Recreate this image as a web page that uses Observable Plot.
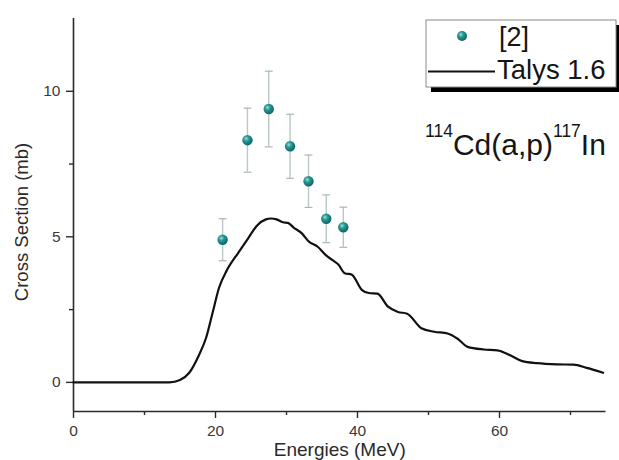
<!DOCTYPE html>
<html>
<head>
<meta charset="utf-8">
<script src="https://cdn.jsdelivr.net/npm/d3@7"></script>
<script src="https://cdn.jsdelivr.net/npm/@observablehq/plot@0.6"></script>
<style>
  html, body { margin: 0; padding: 0; background: #fff; }
  #chart { width: 619px; height: 460px; }
  svg { font-family: "Liberation Sans", Arial, sans-serif; }
</style>
</head>
<body>
<div id="chart"></div>
<script>
// Experimental data [2]
const expEnergy = [21.0, 24.5, 27.5, 30.5, 33.1, 35.6, 38.0];
const expCross  = [4.90, 8.32, 9.39, 8.11, 6.91, 5.62, 5.33];
const expError  = [0.72, 1.10, 1.30, 1.10, 0.90, 0.82, 0.69];

// Talys 1.6 calculation
const talysEnergy = [0, 5, 10, 13.5, 15.0, 16.3, 17.6, 18.7, 19.6, 20.5, 21.6, 23.2, 24.6, 25.9, 27.1, 27.8, 28.6, 29.5, 30.2, 31.0, 32.2, 33.1, 34.4, 35.5, 36.6, 37.3, 38.2, 39.2, 40.6, 41.6, 42.8, 44.3, 45.7, 47.0, 49.0, 50.8, 52.7, 54.1, 55.5, 57.8, 59.7, 61.5, 63.2, 65.3, 68.1, 70.4, 72.3, 74.6];
const talysCross  = [0, 0, 0, 0, 0.08, 0.33, 0.90, 1.55, 2.40, 3.25, 3.85, 4.45, 4.95, 5.40, 5.60, 5.63, 5.60, 5.50, 5.48, 5.32, 5.11, 4.85, 4.66, 4.38, 4.18, 4.05, 3.75, 3.70, 3.18, 3.07, 3.05, 2.60, 2.42, 2.36, 1.86, 1.74, 1.68, 1.50, 1.22, 1.13, 1.10, 0.93, 0.73, 0.66, 0.62, 0.61, 0.50, 0.33];

// Tick values
const xMajorTicks = [0, 20, 40, 60];
const xMinorTicks = [10, 30, 50, 70];
const yMajorTicks = [0, 5, 10];
const yMinorTicks = [2.5, 7.5];

const expData = expEnergy.map((x, i) => ({x, y: expCross[i], e: expError[i]}));
const talysData = talysEnergy.map((x, i) => ({x, y: talysCross[i]}));

const axisColor = "#2a2a2a";
const chart = Plot.plot({
  width: 619,
  height: 460,
  marginLeft: 73,
  marginRight: 13.5,
  marginTop: 18,
  marginBottom: 49,
  style: {fontFamily: "'Liberation Sans', Arial, sans-serif", background: "white"},
  x: {domain: [0, 75]},
  y: {domain: [-1, 12.5]},
  marks: [
    // axes
    Plot.axisX({ticks: xMajorTicks, tickSize: 7, tickPadding: 6, fontSize: 15.5, color: "#3a3a3a", stroke: axisColor, strokeWidth: 1.4, label: null}),
    Plot.axisX({ticks: xMinorTicks, tickSize: 4, tickFormat: () => "", stroke: axisColor, strokeWidth: 1.4, label: null}),
    Plot.axisY({ticks: yMajorTicks, tickSize: 7, tickPadding: 6, fontSize: 15.5, color: "#3a3a3a", stroke: axisColor, strokeWidth: 1.4, label: null}),
    Plot.axisY({ticks: yMinorTicks, tickSize: 4, tickFormat: () => "", stroke: axisColor, strokeWidth: 1.4, label: null}),
    Plot.ruleY([-1], {stroke: axisColor, strokeWidth: 1.6}),
    Plot.ruleX([0], {stroke: axisColor, strokeWidth: 1.6}),
    Plot.text(["Energies (MeV)"], {frameAnchor: "bottom", dy: 38, lineAnchor: "middle", textAnchor: "middle", fontSize: 19, fill: "#2a2a2a"}),
    Plot.text(["Cross Section (mb)"], {frameAnchor: "left", dx: -51, dy: 7, rotate: -90, lineAnchor: "middle", textAnchor: "middle", fontSize: 18.5, fill: "#2a2a2a"}),
    // Talys curve
    Plot.line(talysData, {x: "x", y: "y", stroke: "#111", strokeWidth: 2.2, curve: "monotone-x"}),
    // error bars
    Plot.ruleX(expData, {x: "x", y1: d => d.y - d.e, y2: d => d.y + d.e, stroke: "#b9c7c7", strokeWidth: 1.4}),
    Plot.link(expData, {x1: d => d.x - 0.55, x2: d => d.x + 0.55, y1: d => d.y + d.e, y2: d => d.y + d.e, stroke: "#aab6b6", strokeWidth: 1.2}),
    Plot.link(expData, {x1: d => d.x - 0.55, x2: d => d.x + 0.55, y1: d => d.y - d.e, y2: d => d.y - d.e, stroke: "#aab6b6", strokeWidth: 1.2}),
    // points
    Plot.dot(expData, {x: "x", y: "y", r: 5.2, fill: "url(#ball)", stroke: "none"})
  ]
});

const svg = d3.select(chart);
const defs = svg.insert("defs", ":first-child");
const g = defs.append("radialGradient").attr("id", "ball").attr("cx", "0.38").attr("cy", "0.35").attr("r", "0.7");
g.append("stop").attr("offset", "0").attr("stop-color", "#9fe0dc");
g.append("stop").attr("offset", "0.35").attr("stop-color", "#2a9a96");
g.append("stop").attr("offset", "1").attr("stop-color", "#0b5e5e");

// Legend box with shadow
const leg = svg.append("g").attr("text-anchor", "start");
leg.append("rect").attr("x", 431).attr("y", 25).attr("width", 190).attr("height", 67).attr("fill", "#000");
leg.append("rect").attr("x", 426).attr("y", 20).attr("width", 190).attr("height", 67).attr("fill", "#fff").attr("stroke", "#8a8a8a").attr("stroke-width", 1);
leg.append("circle").attr("cx", 462).attr("cy", 36).attr("r", 5).attr("fill", "url(#ball)");
leg.append("text").attr("x", 499).attr("y", 46).attr("font-size", 27).attr("fill", "#151515").text("[2]");
leg.append("line").attr("x1", 428).attr("x2", 495).attr("y1", 71.5).attr("y2", 71.5).attr("stroke", "#111").attr("stroke-width", 2);
leg.append("text").attr("x", 497).attr("y", 79).attr("font-size", 27.5).attr("fill", "#151515").text("Talys 1.6");

// Reaction annotation
const ann = svg.append("text").attr("text-anchor", "start").attr("x", 425).attr("y", 155).attr("fill", "#151515");
ann.append("tspan").attr("font-size", 17.5).attr("dy", -18).text("114");
ann.append("tspan").attr("font-size", 30).attr("dy", 18).text("Cd(a,p)");
ann.append("tspan").attr("font-size", 17.5).attr("dy", -18).text("117");
ann.append("tspan").attr("font-size", 30).attr("dy", 18).text("In");

document.getElementById("chart").appendChild(chart);
</script>
</body>
</html>
